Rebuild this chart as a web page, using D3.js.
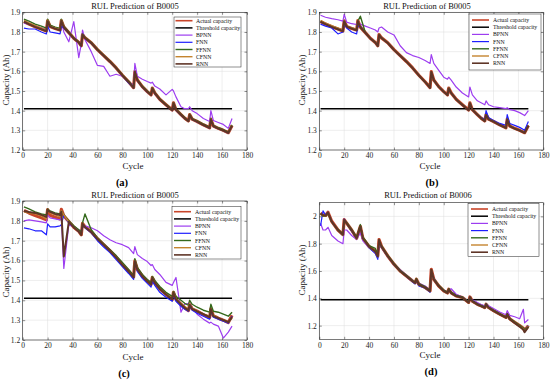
<!DOCTYPE html>
<html>
<head>
<meta charset="utf-8">
<script src="https://cdn.jsdelivr.net/npm/d3@7"></script>
<style>
  body { margin: 0; background: #fff; }
  svg { font-family: "Liberation Serif", "Times New Roman", serif; }
</style>
</head>
<body>
<script>
// ---- data ----
const seriesNames = ['Actual capacity', 'Threshold capacity', 'BPNN', 'FNN', 'FFNN', 'CFNN', 'RNN'];
const xTicks = [0, 20, 40, 60, 80, 100, 120, 140, 160, 180];
const yTicks05 = [1.2, 1.3, 1.4, 1.5, 1.6, 1.7, 1.8, 1.9];
const yTicks06 = [1.2, 1.4, 1.6, 1.8, 2];

const threshCycles = [1, 168];
const threshold05 = [1.41, 1.41];
const threshold06 = [1.39, 1.39];

// B0005 (panels a, b, c)
const cyc05 = [1,5,10,15,19,20,22,26,30,31,33,37,41,45,47,48,50,55,60,65,70,75,80,85,89,90,92,96,100,103,104,106,110,115,120,121,123,127,130,133,134,136,140,145,150,151,153,157,161,165,168];
const actual05 = [1.853,1.84,1.827,1.815,1.805,1.857,1.828,1.818,1.81,1.858,1.825,1.797,1.768,1.747,1.73,1.787,1.77,1.745,1.71,1.68,1.65,1.617,1.58,1.547,1.517,1.598,1.556,1.522,1.497,1.48,1.515,1.49,1.458,1.43,1.403,1.44,1.405,1.38,1.362,1.348,1.38,1.357,1.345,1.328,1.313,1.357,1.322,1.31,1.3,1.288,1.325];

const a_bpnn = [1.845,1.84,1.83,1.82,1.815,1.85,1.83,1.82,1.815,1.86,1.80,1.75,1.853,1.67,1.74,1.81,1.76,1.70,1.63,1.625,1.575,1.585,1.575,1.545,1.53,1.64,1.575,1.56,1.548,1.54,1.545,1.525,1.51,1.48,1.508,1.50,1.47,1.42,1.41,1.41,1.42,1.40,1.385,1.36,1.345,1.40,1.35,1.34,1.33,1.31,1.36];
const a_fnn = [1.82,1.815,1.815,1.80,1.79,1.83,1.80,1.795,1.79,1.83,1.82,1.795,1.766,1.745,1.728,1.785,1.768,1.743,1.708,1.678,1.648,1.615,1.578,1.54,1.515,1.595,1.553,1.52,1.495,1.478,1.512,1.487,1.456,1.428,1.40,1.437,1.402,1.378,1.36,1.346,1.377,1.355,1.343,1.326,1.311,1.354,1.32,1.308,1.298,1.286,1.322];
const a_ffnn = [1.865,1.855,1.84,1.83,1.82,1.865,1.835,1.825,1.818,1.865,1.83,1.80,1.77,1.75,1.733,1.79,1.773,1.748,1.713,1.683,1.652,1.62,1.583,1.55,1.52,1.60,1.559,1.525,1.50,1.483,1.517,1.493,1.461,1.433,1.406,1.442,1.408,1.383,1.365,1.35,1.382,1.36,1.348,1.331,1.316,1.36,1.325,1.313,1.303,1.291,1.328];
const a_cfnn = [1.858,1.845,1.832,1.82,1.81,1.86,1.83,1.82,1.812,1.86,1.826,1.796,1.767,1.746,1.729,1.786,1.769,1.744,1.709,1.679,1.649,1.616,1.579,1.546,1.516,1.596,1.555,1.521,1.496,1.479,1.514,1.489,1.457,1.429,1.402,1.439,1.404,1.379,1.361,1.347,1.379,1.356,1.344,1.327,1.312,1.356,1.321,1.309,1.299,1.287,1.324];
const a_rnn = [1.852,1.84,1.826,1.814,1.804,1.855,1.827,1.817,1.809,1.856,1.824,1.796,1.767,1.746,1.729,1.785,1.769,1.744,1.709,1.679,1.649,1.616,1.579,1.546,1.516,1.596,1.555,1.521,1.496,1.479,1.513,1.489,1.457,1.429,1.402,1.438,1.404,1.379,1.361,1.347,1.378,1.356,1.344,1.327,1.312,1.355,1.321,1.309,1.299,1.287,1.323];

const b_bpnn = [1.885,1.875,1.868,1.862,1.855,1.89,1.85,1.842,1.838,1.85,1.84,1.83,1.82,1.81,1.80,1.82,1.825,1.80,1.785,1.73,1.695,1.68,1.67,1.655,1.64,1.685,1.64,1.605,1.57,1.56,1.57,1.555,1.52,1.49,1.47,1.52,1.48,1.45,1.44,1.43,1.45,1.43,1.42,1.415,1.41,1.415,1.405,1.40,1.39,1.375,1.40];
const b_fnn = [1.84,1.83,1.82,1.79,1.80,1.84,1.82,1.80,1.79,1.83,1.83,1.796,1.767,1.746,1.729,1.786,1.769,1.744,1.709,1.679,1.649,1.616,1.579,1.546,1.516,1.596,1.555,1.521,1.496,1.479,1.514,1.489,1.457,1.429,1.402,1.439,1.404,1.379,1.365,1.355,1.40,1.365,1.35,1.335,1.325,1.38,1.335,1.325,1.315,1.30,1.345];
const b_ffnn = [1.855,1.842,1.83,1.818,1.808,1.856,1.83,1.82,1.812,1.855,1.88,1.797,1.768,1.747,1.73,1.787,1.77,1.745,1.71,1.68,1.65,1.617,1.58,1.547,1.517,1.598,1.556,1.522,1.497,1.48,1.515,1.49,1.458,1.43,1.403,1.44,1.405,1.38,1.362,1.348,1.38,1.357,1.345,1.328,1.313,1.357,1.322,1.31,1.30,1.288,1.325];
const b_cfnn = [1.858,1.845,1.832,1.82,1.81,1.86,1.83,1.82,1.812,1.86,1.826,1.796,1.767,1.746,1.729,1.786,1.769,1.744,1.709,1.679,1.649,1.616,1.579,1.546,1.516,1.596,1.555,1.521,1.496,1.479,1.514,1.489,1.457,1.429,1.402,1.439,1.404,1.379,1.361,1.347,1.379,1.356,1.344,1.327,1.312,1.356,1.321,1.309,1.299,1.287,1.324];
const b_rnn = [1.852,1.84,1.826,1.814,1.804,1.855,1.827,1.817,1.809,1.856,1.824,1.796,1.767,1.746,1.729,1.785,1.769,1.744,1.709,1.679,1.649,1.616,1.579,1.546,1.516,1.596,1.555,1.521,1.496,1.479,1.513,1.489,1.457,1.429,1.402,1.438,1.404,1.379,1.361,1.347,1.378,1.356,1.344,1.327,1.312,1.355,1.321,1.309,1.299,1.287,1.323];

const c_bpnn = [1.80,1.805,1.80,1.795,1.79,1.83,1.815,1.81,1.805,1.82,1.56,1.78,1.77,1.755,1.75,1.775,1.775,1.765,1.75,1.725,1.705,1.69,1.68,1.665,1.635,1.67,1.63,1.61,1.595,1.575,1.58,1.555,1.53,1.49,1.475,1.49,1.515,1.34,1.38,1.385,1.39,1.36,1.33,1.305,1.285,1.29,1.28,1.27,1.21,1.24,1.27];
const c_fnn = [1.765,1.76,1.75,1.75,1.73,1.785,1.77,1.77,1.775,1.78,1.83,1.79,1.77,1.745,1.735,1.775,1.765,1.74,1.70,1.668,1.64,1.605,1.57,1.535,1.505,1.59,1.545,1.51,1.485,1.466,1.495,1.475,1.44,1.415,1.395,1.425,1.395,1.37,1.355,1.345,1.37,1.35,1.335,1.32,1.305,1.345,1.315,1.305,1.295,1.285,1.32];
const c_ffnn = [1.87,1.86,1.845,1.835,1.83,1.86,1.85,1.84,1.835,1.85,1.83,1.80,1.775,1.755,1.745,1.79,1.835,1.755,1.715,1.685,1.655,1.625,1.59,1.555,1.525,1.61,1.565,1.53,1.505,1.49,1.52,1.50,1.47,1.44,1.42,1.445,1.42,1.40,1.385,1.375,1.40,1.38,1.365,1.35,1.34,1.38,1.345,1.34,1.33,1.32,1.34];
const c_cfnn = [1.845,1.84,1.835,1.825,1.81,1.855,1.84,1.83,1.82,1.85,1.83,1.795,1.768,1.747,1.73,1.787,1.77,1.745,1.71,1.68,1.65,1.617,1.58,1.547,1.517,1.598,1.556,1.522,1.497,1.48,1.515,1.49,1.458,1.43,1.41,1.44,1.41,1.385,1.37,1.355,1.385,1.36,1.345,1.33,1.32,1.355,1.325,1.31,1.30,1.29,1.31];
const c_rnn = [1.85,1.845,1.84,1.83,1.82,1.855,1.845,1.835,1.83,1.845,1.62,1.795,1.767,1.746,1.729,1.785,1.769,1.744,1.709,1.679,1.649,1.616,1.579,1.546,1.516,1.596,1.555,1.521,1.496,1.479,1.513,1.489,1.457,1.429,1.405,1.438,1.405,1.38,1.362,1.35,1.378,1.356,1.344,1.33,1.315,1.355,1.32,1.31,1.30,1.29,1.315];

// B0006 (panel d)
const cyc06 = [1,3,5,7,10,15,19,20,22,26,30,33,35,40,45,47,48,50,55,60,65,70,75,77,78,80,85,89,90,92,96,100,103,104,106,110,115,120,121,123,127,130,133,134,136,140,145,150,151,153,157,161,164,165,168];
const actual06 = [2.024,2.01,2.007,2.03,1.964,1.90,1.867,1.976,1.95,1.90,1.84,1.927,1.84,1.78,1.745,1.71,1.83,1.78,1.71,1.65,1.60,1.564,1.527,1.515,1.54,1.503,1.48,1.455,1.612,1.54,1.49,1.455,1.44,1.467,1.44,1.418,1.406,1.37,1.41,1.38,1.357,1.345,1.333,1.357,1.333,1.31,1.285,1.26,1.285,1.25,1.224,1.20,1.18,1.164,1.20];
const d_bpnn = [1.95,1.90,1.90,1.92,1.86,1.82,1.80,1.90,1.90,1.86,1.83,1.88,1.82,1.77,1.73,1.70,1.78,1.78,1.71,1.65,1.61,1.57,1.53,1.52,1.53,1.51,1.49,1.46,1.60,1.55,1.49,1.46,1.445,1.46,1.47,1.43,1.41,1.375,1.40,1.39,1.37,1.355,1.345,1.36,1.345,1.325,1.30,1.28,1.31,1.275,1.265,1.25,1.32,1.22,1.245];
const d_fnn = [1.93,2.04,2.01,2.03,1.96,1.90,1.86,1.98,1.95,1.89,1.84,1.92,1.84,1.77,1.73,1.685,1.81,1.77,1.705,1.645,1.60,1.56,1.52,1.505,1.53,1.49,1.475,1.445,1.60,1.535,1.49,1.455,1.44,1.465,1.44,1.418,1.405,1.368,1.41,1.38,1.356,1.344,1.332,1.355,1.332,1.309,1.284,1.259,1.284,1.249,1.223,1.199,1.18,1.165,1.20];
const d_ffnn = [2.02,2.00,2.00,2.02,1.96,1.905,1.87,1.97,1.955,1.905,1.85,1.94,1.85,1.785,1.765,1.72,1.82,1.785,1.715,1.655,1.605,1.568,1.53,1.52,1.545,1.508,1.485,1.46,1.61,1.545,1.495,1.46,1.445,1.47,1.445,1.422,1.41,1.375,1.41,1.383,1.36,1.348,1.337,1.36,1.336,1.313,1.288,1.263,1.288,1.253,1.228,1.203,1.183,1.168,1.195];
const d_cfnn = [2.015,2.005,2.0,2.025,1.96,1.895,1.862,1.97,1.945,1.895,1.835,1.92,1.835,1.775,1.74,1.705,1.825,1.775,1.705,1.645,1.595,1.56,1.523,1.511,1.535,1.499,1.476,1.451,1.605,1.536,1.486,1.451,1.436,1.463,1.436,1.414,1.402,1.366,1.406,1.376,1.353,1.341,1.329,1.353,1.329,1.306,1.281,1.256,1.281,1.246,1.22,1.195,1.175,1.158,1.195];
const d_rnn = [2.02,2.008,2.004,2.028,1.962,1.898,1.865,1.974,1.948,1.898,1.838,1.925,1.838,1.778,1.743,1.708,1.828,1.778,1.708,1.648,1.598,1.562,1.525,1.513,1.538,1.501,1.478,1.453,1.61,1.538,1.488,1.453,1.438,1.465,1.438,1.416,1.404,1.368,1.408,1.378,1.355,1.343,1.331,1.355,1.331,1.308,1.283,1.258,1.283,1.247,1.22,1.193,1.17,1.152,1.19];

// ---- styles ----
const colors = ['#c8452a', '#000000', '#9d3df0', '#1f1fff', '#35691c', '#c4842e', '#5f3527'];
const widths = [3.2, 1.5, 1.2, 1.2, 1.4, 1.4, 2];

const panels = [
  { letter: '(a)', title: 'RUL Prediction of B0005', cycles: cyc05, thr: threshold05,
    preds: [actual05, a_bpnn, a_fnn, a_ffnn, a_cfnn, a_rnn], yDomain: [1.2, 1.9], yTicks: yTicks05,
    left: 22.7, right: 247, top: 12.3, bottom: 150, ylabX: 8.5, ylabY: 80,
    titleX: 135, titleY: 8.5, cycleX: 133, cycleY: 169, letterX: 122, letterY: 186,
    lg: { x: 174, y: 17, w: 67, h: 50, lx: 175.5, tx: 196, ry: 20.7 } },
  { letter: '(b)', title: 'RUL Prediction of B0005', cycles: cyc05, thr: threshold05,
    preds: [actual05, b_bpnn, b_fnn, b_ffnn, b_cfnn, b_rnn], yDomain: [1.2, 1.9], yTicks: yTicks05,
    left: 319.3, right: 543.3, top: 12.3, bottom: 150, ylabX: 304.5, ylabY: 80,
    titleX: 427, titleY: 8.5, cycleX: 430, cycleY: 169, letterX: 432, letterY: 186,
    lg: { x: 469, y: 14, w: 72, h: 56, lx: 472, tx: 493, ry: 20 } },
  { letter: '(c)', title: 'RUL Prediction of B0005', cycles: cyc05, thr: threshold05,
    preds: [actual05, c_bpnn, c_fnn, c_ffnn, c_cfnn, c_rnn], yDomain: [1.2, 1.9], yTicks: yTicks05,
    left: 22.7, right: 247, top: 201, bottom: 340, ylabX: 8.5, ylabY: 272,
    titleX: 135, titleY: 198, cycleX: 133, cycleY: 360, letterX: 124, letterY: 377,
    lg: { x: 172, y: 206.7, w: 69, h: 52.3, lx: 174, tx: 195, ry: 211.7 } },
  { letter: '(d)', title: 'RUL Prediction of B0006', cycles: cyc06, thr: threshold06,
    preds: [actual06, d_bpnn, d_fnn, d_ffnn, d_cfnn, d_rnn], yDomain: [1.1, 2.1], yTicks: yTicks06,
    left: 319.3, right: 543.3, top: 202.7, bottom: 339.3, ylabX: 304.5, ylabY: 270,
    titleX: 428, titleY: 198, cycleX: 430, cycleY: 358, letterX: 431, letterY: 375,
    lg: { x: 468, y: 203.3, w: 71, h: 53.4, lx: 471, tx: 492, ry: 209 } }
];

const w = 550;
const h = 380;

const svg = d3.select('body')
              .append('svg')
              .attr('width', w)
              .attr('height', h);

panels.forEach((p, pi) => {
  const xScale = d3.scaleLinear().domain([0, 180]).range([p.left, p.right]);
  const yScale = d3.scaleLinear().domain(p.yDomain).range([p.bottom, p.top]);
  const g = svg.append('g');

  g.append('rect')
   .attr('x', p.left).attr('y', p.top)
   .attr('width', p.right - p.left).attr('height', p.bottom - p.top)
   .attr('fill', '#fff');

  // grid
  g.selectAll('.gx').data(xTicks).enter().append('line')
   .attr('x1', (d) => xScale(d)).attr('x2', (d) => xScale(d))
   .attr('y1', p.top).attr('y2', p.bottom)
   .attr('stroke', '#dcdcdc').attr('stroke-width', 0.5);
  g.selectAll('.gy').data(p.yTicks).enter().append('line')
   .attr('x1', p.left).attr('x2', p.right)
   .attr('y1', (d) => yScale(d)).attr('y2', (d) => yScale(d))
   .attr('stroke', '#dcdcdc').attr('stroke-width', 0.5);

  // lines
  const clipId = 'clip' + pi;
  g.append('clipPath').attr('id', clipId).append('rect')
   .attr('x', p.left).attr('y', p.top)
   .attr('width', p.right - p.left).attr('height', p.bottom - p.top);
  const plot = g.append('g').attr('clip-path', 'url(#' + clipId + ')');
  const line = d3.line().x((d) => xScale(d[0])).y((d) => yScale(d[1]));

  const drawn = [
    p.cycles.map((c, i) => [c, p.preds[0][i]]),
    threshCycles.map((c, i) => [c, p.thr[i]])
  ];
  p.preds.slice(1).forEach((arr) => drawn.push(p.cycles.map((c, i) => [c, arr[i]])));

  drawn.forEach((pts, k) => {
    plot.append('path')
        .attr('d', line(pts))
        .attr('fill', 'none')
        .attr('stroke', colors[k])
        .attr('stroke-width', widths[k])
        .attr('stroke-linejoin', 'round');
  });

  // axes
  const styleAxis = (ax) => {
    ax.select('.domain').remove();
    ax.selectAll('line').attr('stroke', '#222').attr('stroke-width', 0.5);
    ax.selectAll('text').attr('font-size', '7.5px').attr('fill', '#222')
      .attr('font-family', '"Liberation Serif", "Times New Roman", serif');
  };
  g.append('g').attr('transform', 'translate(0,' + p.bottom + ')')
   .call(d3.axisBottom(xScale).tickValues(xTicks).tickSize(-2.5).tickPadding(3))
   .call(styleAxis);
  g.append('g').attr('transform', 'translate(0,' + p.top + ')')
   .call(d3.axisTop(xScale).tickValues(xTicks).tickSize(-2.5).tickFormat(''))
   .call(styleAxis);
  g.append('g').attr('transform', 'translate(' + p.left + ',0)')
   .call(d3.axisLeft(yScale).tickValues(p.yTicks).tickSize(-2.5).tickPadding(2.5).tickFormat((d) => d))
   .call(styleAxis);
  g.append('g').attr('transform', 'translate(' + p.right + ',0)')
   .call(d3.axisRight(yScale).tickValues(p.yTicks).tickSize(-2.5).tickFormat(''))
   .call(styleAxis);

  g.append('rect')
   .attr('x', p.left).attr('y', p.top)
   .attr('width', p.right - p.left).attr('height', p.bottom - p.top)
   .attr('fill', 'none').attr('stroke', '#222').attr('stroke-width', 0.6);

  // texts
  g.append('text').text(p.title)
   .attr('x', p.titleX).attr('y', p.titleY)
   .attr('text-anchor', 'middle').attr('font-size', '8.5px').attr('fill', '#111');
  g.append('text').text('Cycle')
   .attr('x', p.cycleX).attr('y', p.cycleY)
   .attr('text-anchor', 'middle').attr('font-size', '9px').attr('fill', '#111');
  g.append('text').text('Capacity (Ah)')
   .attr('transform', 'translate(' + p.ylabX + ',' + p.ylabY + ')rotate(-90)')
   .attr('text-anchor', 'middle').attr('font-size', '9px').attr('fill', '#111');
  g.append('text').text(p.letter)
   .attr('x', p.letterX).attr('y', p.letterY)
   .attr('text-anchor', 'middle').attr('font-size', '10.5px')
   .attr('font-weight', 'bold').attr('fill', '#000');

  // legend
  const lg = p.lg;
  g.append('rect')
   .attr('x', lg.x).attr('y', lg.y).attr('width', lg.w).attr('height', lg.h)
   .attr('fill', '#fff').attr('stroke', '#222').attr('stroke-width', 0.5);
  seriesNames.forEach((name, k) => {
    const yy = lg.ry + k * 7.2;
    g.append('line')
     .attr('x1', lg.lx).attr('x2', lg.lx + 17)
     .attr('y1', yy).attr('y2', yy)
     .attr('stroke', colors[k]).attr('stroke-width', Math.min(widths[k], 1.6));
    g.append('text').text(name)
     .attr('x', lg.tx).attr('y', yy + 2)
     .attr('font-size', '5.8px').attr('fill', '#111');
  });
});
</script>
</body>
</html>
